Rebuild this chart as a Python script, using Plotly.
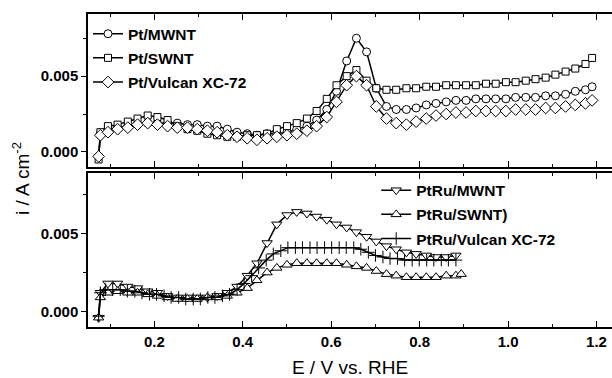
import plotly.graph_objects as go
from plotly.subplots import make_subplots

# ---------- top panel data ----------
x_top = [0.074, 0.078, 0.095, 0.117, 0.14, 0.162, 0.185, 0.207, 0.23, 0.252, 0.275, 0.297,
         0.32, 0.342, 0.365, 0.387, 0.41, 0.432, 0.455, 0.477, 0.50, 0.522, 0.545, 0.567,
         0.59, 0.612, 0.635, 0.657, 0.68, 0.702, 0.725, 0.747, 0.77, 0.792, 0.815, 0.837,
         0.86, 0.882, 0.905, 0.927, 0.95, 0.972, 0.995, 1.017, 1.04, 1.062, 1.085, 1.107,
         1.13, 1.152, 1.175, 1.19]

pt_mwnt = [-0.0003, 0.0012, 0.0015, 0.0016, 0.0017, 0.0018, 0.0019, 0.0019, 0.0019, 0.0019,
           0.0018, 0.0018, 0.0017, 0.0017, 0.0015, 0.0013, 0.0012, 0.0011, 0.0012, 0.0012,
           0.0013, 0.0015, 0.0017, 0.0021, 0.0028, 0.0040, 0.0060, 0.0075, 0.0066, 0.0042,
           0.0030, 0.0028, 0.0028, 0.0029, 0.0031, 0.0032, 0.0033, 0.0034, 0.0034, 0.0035,
           0.0035, 0.0035, 0.0035, 0.0036, 0.0036, 0.0036, 0.0037, 0.0037, 0.0038, 0.0040,
           0.0041, 0.0043]

pt_swnt = [-0.0005, 0.0013, 0.0017, 0.0018, 0.0020, 0.0022, 0.0024, 0.0023, 0.0021, 0.0017,
           0.0015, 0.0014, 0.0012, 0.0011, 0.0010, 0.0010, 0.0011, 0.0011, 0.0012, 0.0015,
           0.0017, 0.0019, 0.0022, 0.0027, 0.0035, 0.0044, 0.0050, 0.0054, 0.0047, 0.0042,
           0.0041, 0.0041, 0.0042, 0.0042, 0.0043, 0.0043, 0.0044, 0.0044, 0.0044, 0.0044,
           0.0045, 0.0045, 0.0046, 0.0046, 0.0047, 0.0048, 0.0049, 0.0051, 0.0053, 0.0055,
           0.0058, 0.0062]

pt_vulcan = [-0.0003, 0.0011, 0.0013, 0.0015, 0.0016, 0.0018, 0.0019, 0.0018, 0.0017, 0.0016,
             0.0016, 0.0015, 0.0014, 0.0013, 0.0011, 0.0010, 0.0009, 0.0008, 0.0009, 0.0010,
             0.0011, 0.0012, 0.0014, 0.0017, 0.0023, 0.0033, 0.0044, 0.0050, 0.0044, 0.0030,
             0.0022, 0.0019, 0.0018, 0.0020, 0.0022, 0.0024, 0.0025, 0.0026, 0.0026, 0.0027,
             0.0027, 0.0027, 0.0027, 0.0028, 0.0028, 0.0028, 0.0029, 0.0029, 0.0030, 0.0031,
             0.0032, 0.0034]

# ---------- bottom panel data ----------
x_bot = [0.074, 0.078, 0.095, 0.117, 0.14, 0.162, 0.185, 0.207, 0.23, 0.252, 0.275, 0.297,
         0.32, 0.342, 0.365, 0.387, 0.41, 0.432, 0.455, 0.477, 0.50, 0.522, 0.545, 0.567,
         0.59, 0.612, 0.635, 0.657, 0.68, 0.702, 0.725, 0.747, 0.77, 0.792, 0.815, 0.837,
         0.86, 0.882]

ptru_mwnt = [-0.0004, 0.0012, 0.0018, 0.0018, 0.0016, 0.0015, 0.0013, 0.0012, 0.0010, 0.0009,
             0.0009, 0.0009, 0.0009, 0.0010, 0.0012, 0.0016, 0.0023, 0.0031, 0.0044, 0.0056,
             0.0062, 0.0064, 0.0063, 0.0061, 0.0059, 0.0056, 0.0054, 0.0051, 0.0048, 0.0045,
             0.0042, 0.0040, 0.0038, 0.0037, 0.0036, 0.0035, 0.0035, 0.0036]

x_bot_swnt = x_bot + [0.894]
ptru_swnt = [-0.0004, 0.0009, 0.0012, 0.0013, 0.0012, 0.0012, 0.0011, 0.0010, 0.0009, 0.0008,
             0.0008, 0.0008, 0.0009, 0.0009, 0.0010, 0.0012, 0.0015, 0.0020, 0.0025, 0.0028,
             0.0030, 0.0031, 0.0031, 0.0031, 0.0031, 0.0031, 0.0030, 0.0029, 0.0028, 0.0026,
             0.0024, 0.0023, 0.0022, 0.0022, 0.0022, 0.0022, 0.0023, 0.0023, 0.0024]

x_bot_vulcan = [0.074, 0.078, 0.09, 0.106, 0.123, 0.139, 0.156, 0.172, 0.189, 0.205, 0.222,
                0.238, 0.255, 0.271, 0.288, 0.304, 0.321, 0.337, 0.354, 0.370, 0.387, 0.403,
                0.420, 0.436, 0.453, 0.469, 0.486, 0.502, 0.519, 0.535, 0.552, 0.568, 0.585,
                0.601, 0.618, 0.634, 0.651, 0.667, 0.684, 0.700, 0.717, 0.733, 0.750, 0.766,
                0.783, 0.799, 0.816, 0.832, 0.849, 0.865, 0.882]
ptru_vulcan = [-0.0003, 0.0012, 0.0014, 0.0014, 0.0014, 0.0013, 0.0013, 0.0012, 0.0011, 0.0011,
               0.0010, 0.0009, 0.0009, 0.0008, 0.0008, 0.0008, 0.0009, 0.0009, 0.0010, 0.0011,
               0.0014, 0.0018, 0.0023, 0.0028, 0.0033, 0.0037, 0.0039, 0.0041, 0.0041, 0.0041,
               0.0041, 0.0041, 0.0041, 0.0041, 0.0041, 0.0041, 0.0041, 0.0040, 0.0038, 0.0036,
               0.0035, 0.0034, 0.0034, 0.0033, 0.0033, 0.0033, 0.0033, 0.0033, 0.0033, 0.0033,
               0.0033]

x_ticks = [0.2, 0.4, 0.6, 0.8, 1.0, 1.2]
y_ticks = [0.0, 0.005]

FONT = "Arial, Liberation Sans, sans-serif"

fig = make_subplots(rows=2, cols=1, shared_xaxes=False, vertical_spacing=0.0)


def add(x, y, name, symbol, row, legend, size=8):
    fig.add_trace(go.Scatter(
        x=x, y=y, name=name, mode="lines+markers",
        line=dict(color="black", width=1.5),
        marker=dict(symbol=symbol, size=size, color="white",
                    line=dict(color="black", width=1)),
        legend=legend, legendgroup=name,
    ), row=row, col=1)


add(x_top, pt_mwnt, "Pt/MWNT", "circle", 1, "legend")
add(x_top, pt_swnt, "Pt/SWNT", "square", 1, "legend", size=7)
add(x_top, pt_vulcan, "Pt/Vulcan XC-72", "diamond", 1, "legend", size=9)

add(x_bot, ptru_mwnt, "PtRu/MWNT", "triangle-down", 2, "legend2", size=9)
add(x_bot_swnt, ptru_swnt, "PtRu/SWNT)", "triangle-up", 2, "legend2", size=9)
fig.add_trace(go.Scatter(
    x=x_bot_vulcan, y=ptru_vulcan, name="PtRu/Vulcan XC-72", mode="lines+markers",
    line=dict(color="black", width=1.5),
    marker=dict(symbol="cross-thin", size=9, line=dict(color="black", width=1)),
    legend="legend2", legendgroup="PtRu/Vulcan XC-72",
), row=2, col=1)

xaxis_common = dict(
    range=[0.05, 1.235], tickvals=x_ticks, tickformat=".1f",
    ticks="inside", ticklen=6, tickwidth=1, tickcolor="black",
    minor=dict(dtick=0.1, tick0=0.0, ticks="inside", ticklen=3, tickcolor="black"),
    showline=True, linecolor="black", linewidth=1.5, mirror="ticks",
    showgrid=False, zeroline=False,
    tickfont=dict(family=FONT, size=15, color="black", weight="bold"),
)
yaxis_common = dict(
    tickvals=y_ticks, tickformat=".3f",
    ticks="outside", ticklen=5, tickwidth=1, tickcolor="black",
    minor=dict(dtick=0.0025, tick0=0.0, ticks="outside", ticklen=3, tickcolor="black"),
    showline=True, linecolor="black", linewidth=1.5, mirror=False,
    showgrid=False, zeroline=False,
    tickfont=dict(family=FONT, size=15, color="black", weight="bold"),
)

fig.update_xaxes(**xaxis_common)
fig.update_xaxes(showticklabels=False, row=1, col=1)
fig.update_xaxes(domain=[0, 1])
fig.update_yaxes(**yaxis_common)
fig.update_yaxes(range=[-0.001, 0.0091], domain=[0.511, 1.0], row=1, col=1)
fig.update_yaxes(range=[-0.001, 0.0089], domain=[0.0, 0.492], row=2, col=1)

fig.update_xaxes(title=dict(text="E / V vs. RHE", font=dict(family=FONT, size=19, color="black"),
                            standoff=14), row=2, col=1)

fig.add_annotation(
    text="i / A cm<sup>-2</sup>", xref="paper", yref="paper",
    x=-0.128, y=0.476, xanchor="center", yanchor="middle",
    showarrow=False, textangle=-90,
    font=dict(family=FONT, size=19, color="black"),
)

legend_common = dict(
    font=dict(family=FONT, size=15.5, color="black", weight="bold"),
    bgcolor="rgba(0,0,0,0)", borderwidth=0, tracegroupgap=1,
    xanchor="left", yanchor="top", itemwidth=30,
)

fig.update_layout(
    width=612, height=378,
    margin=dict(l=88, r=0, t=14, b=51),
    paper_bgcolor="white", plot_bgcolor="white",
    showlegend=True,
    legend=dict(x=0.0, y=0.99, **legend_common),
    legend2=dict(x=0.55, y=0.49, **legend_common),
)

fig.write_html("out.html")
